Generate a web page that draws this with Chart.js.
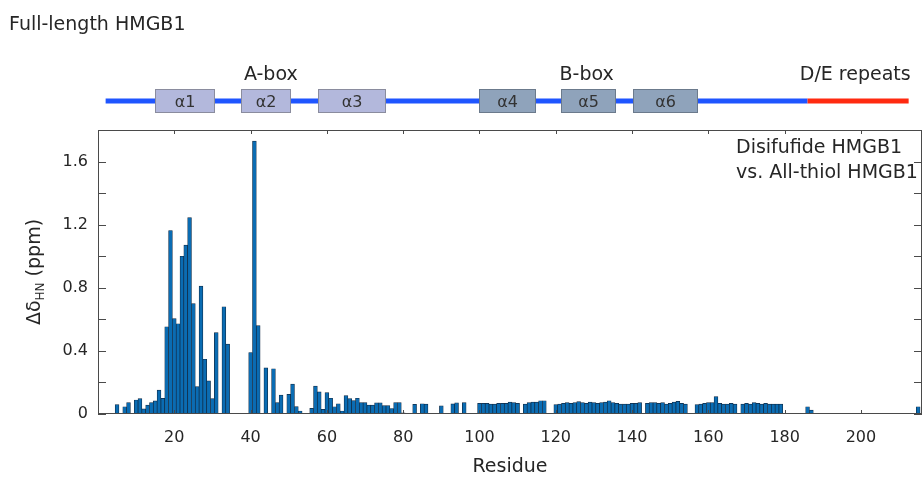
<!DOCTYPE html>
<html><head><meta charset="utf-8">
<script src="https://cdn.jsdelivr.net/npm/chart.js@4.4.1/dist/chart.umd.min.js"></script>
<style>html,body{margin:0;padding:0;background:#fff;}#wrap{width:923px;height:477px;}</style>
</head><body><div id="wrap"><canvas id="c" width="923" height="477"></canvas></div>
<script>
// ---- data ----
const residues = [5,7,8,10,11,12,13,14,15,16,17,18,19,20,21,22,23,24,25,26,27,28,29,30,31,33,34,
  40,41,42,44,46,47,48,50,51,52,53,56,57,58,59,60,61,62,63,64,65,66,67,68,69,70,71,72,73,74,75,76,77,78,79,80,
  83,85,86,90,93,94,96,
  100,101,102,103,104,105,106,107,108,109,110,112,113,114,115,116,117,
  120,121,122,123,124,125,126,127,128,129,130,131,132,133,134,135,136,137,138,139,140,141,142,
  144,145,146,147,148,149,150,151,152,153,154,
  157,158,159,160,161,162,163,164,165,166,167,
  169,170,171,172,173,174,175,176,177,178,179,
  186,187,215];
const shifts = [0.059,0.046,0.072,0.089,0.097,0.032,0.057,0.072,0.083,0.152,0.099,0.553,1.163,0.605,0.572,1.0,1.07,1.245,0.70,0.173,0.81,0.347,0.21,0.098,0.516,0.68,0.443,
  0.39,1.73,0.56,0.292,0.287,0.072,0.12,0.125,0.19,0.047,0.019,0.036,0.177,0.14,0.03,0.136,0.10,0.046,0.065,0.019,0.116,0.097,0.085,0.10,0.072,0.072,0.057,0.057,0.071,0.071,0.053,0.053,0.035,0.072,0.072,0.008,
  0.061,0.065,0.063,0.052,0.064,0.071,0.072,
  0.068,0.068,0.068,0.063,0.063,0.068,0.068,0.068,0.076,0.072,0.068,0.063,0.072,0.076,0.076,0.084,0.084,
  0.059,0.063,0.068,0.072,0.068,0.072,0.078,0.072,0.068,0.076,0.072,0.068,0.072,0.076,0.084,0.072,0.068,0.063,0.063,0.063,0.068,0.068,0.072,
  0.068,0.072,0.072,0.068,0.072,0.063,0.068,0.076,0.080,0.068,0.063,
  0.059,0.063,0.068,0.072,0.072,0.110,0.068,0.063,0.063,0.068,0.063,
  0.063,0.068,0.063,0.072,0.068,0.063,0.068,0.063,0.063,0.063,0.063,
  0.046,0.025,0.046];
const xTickValues = [20,40,60,80,100,120,140,160,180,200];
const yTickValues = [0,0.2,0.4,0.6,0.8,1.0,1.2,1.4,1.6,1.8];
const yTickLabels = {0:'0',0.4:'0.4',0.8:'0.8',1.2:'1.2',1.6:'1.6'};
const helixNames = ['α1','α2','α3','α4','α5','α6'];
const helixStart = [15,37.6,57.8,99.9,121.3,140.2];
const helixEnd   = [30.5,50.4,75.2,114.6,135.4,157];
const domainNames = ['A-box','B-box','D/E repeats'];
const domainCenters = [45.3,128.1,198.5];
const chainStart = 2, acidicStart = 186, chainEnd = 212.5;
const annotationLines = ['Disifufide HMGB1','vs. All-thiol HMGB1'];

const FONT = "'DejaVu Sans', sans-serif";
const TXT = '#262626';
const AX = '#4a4a4a';

const decor = {
  id:'decor',
  afterDraw(chart){
    const {ctx, chartArea:{left,right,top,bottom}, scales:{x,y}} = chart;
    ctx.save();
    // frame
    ctx.strokeStyle = AX; ctx.lineWidth = 1;
    ctx.strokeRect(left+0.5, top+0.5, right-left-1, bottom-top-1);
    // y ticks (inward, both sides)
    yTickValues.forEach(v=>{
      const py = Math.round(y.getPixelForValue(v))+0.5;
      ctx.beginPath();
      ctx.moveTo(left, py); ctx.lineTo(left+8, py);
      ctx.moveTo(right, py); ctx.lineTo(right-8, py);
      ctx.stroke();
    });
    xTickValues.forEach(v=>{
      const px = Math.round(x.getPixelForValue(v))+0.5;
      ctx.beginPath();
      ctx.moveTo(px, bottom); ctx.lineTo(px, bottom-4);
      ctx.moveTo(px, top); ctx.lineTo(px, top+4);
      ctx.stroke();
    });
    // y title with subscript
    ctx.fillStyle = TXT;
    ctx.translate(33, 272);
    ctx.rotate(-Math.PI/2);
    const f1 = '19px '+FONT, f2 = '12px '+FONT;
    ctx.font = f1; const w1 = ctx.measureText('Δδ').width;
    ctx.font = f2; const w2 = ctx.measureText('HN').width;
    ctx.font = f1; const w3 = ctx.measureText(' (ppm)').width;
    let sx = -(w1+w2+w3)/2;
    ctx.textBaseline = 'alphabetic';
    ctx.font = f1; ctx.fillText('Δδ', sx, 7); sx += w1;
    ctx.font = f2; ctx.fillText('HN', sx, 11); sx += w2;
    ctx.font = f1; ctx.fillText(' (ppm)', sx, 7);
    ctx.restore();

    ctx.save();
    ctx.fillStyle = TXT;
    ctx.font = '19px '+FONT;
    ctx.textBaseline = 'alphabetic';
    ctx.textAlign = 'left';
    ctx.fillText(annotationLines[0], 736, 153);
    ctx.fillText(annotationLines[1], 736, 178);
    // title
    ctx.fillText('Full-length HMGB1', 9, 30);
    // domain diagram
    const ly = 101;
    ctx.lineWidth = 5; ctx.lineCap = 'butt';
    ctx.strokeStyle = '#1f55ff';
    ctx.beginPath(); ctx.moveTo(x.getPixelForValue(chainStart), ly); ctx.lineTo(x.getPixelForValue(acidicStart), ly); ctx.stroke();
    ctx.strokeStyle = '#ff2a10';
    ctx.beginPath(); ctx.moveTo(x.getPixelForValue(acidicStart), ly); ctx.lineTo(x.getPixelForValue(chainEnd), ly); ctx.stroke();
    ctx.lineWidth = 1;
    helixNames.forEach((n,i)=>{
      const x0 = Math.round(x.getPixelForValue(helixStart[i]))+0.5;
      const x1 = Math.round(x.getPixelForValue(helixEnd[i]))+0.5;
      ctx.fillStyle = i<3 ? '#b3b8dc' : '#8fa3bb';
      ctx.strokeStyle = i<3 ? '#8a8c9e' : '#6b7a8c';
      ctx.fillRect(x0, 89.5, x1-x0, 23);
      ctx.strokeRect(x0, 89.5, x1-x0, 23);
      ctx.fillStyle = '#333';
      ctx.font = '16px '+FONT;
      ctx.textAlign = 'center';
      ctx.fillText(n, (x0+x1)/2, 107);
    });
    ctx.fillStyle = TXT;
    ctx.font = '19px '+FONT;
    ctx.textAlign = 'center';
    domainNames.forEach((n,i)=>{
      ctx.fillText(n, x.getPixelForValue(domainCenters[i]), 80);
    });
    ctx.restore();
  }
};

new Chart(document.getElementById('c'), {
  type:'bar',
  data:{datasets:[{
    data: residues.map((r,i)=>({x:r, y:shifts[i]})),
    backgroundColor:'#0a6cb3',
    borderColor:'#102a44',
    borderWidth:0.7,
    barPercentage:1,
    categoryPercentage:1
  }]},
  options:{
    responsive:false,
    animation:false,
    devicePixelRatio:1,
    layout:{padding:{top:130,right:1,left:0,bottom:0}},
    plugins:{legend:{display:false},tooltip:{enabled:false}},
    scales:{
      x:{
        type:'linear', min:0, max:216, offset:false,
        grid:{display:false, drawTicks:false, offset:false},
        border:{display:false},
        afterBuildTicks:(s)=>{ s.ticks = xTickValues.map(v=>({value:v})); },
        ticks:{autoSkip:false, maxRotation:0, padding:14, color:TXT, font:{family:FONT, size:16},
          callback:(v)=>String(v)},
        title:{display:true, text:'Residue', color:TXT, font:{family:FONT, size:19}, padding:{top:0,bottom:-1}},
        afterFit:(s)=>{ s.height = 63; }
      },
      y:{
        min:0, max:1.8,
        grid:{display:false, drawTicks:false},
        border:{display:false},
        afterBuildTicks:(s)=>{ s.ticks = yTickValues.map(v=>({value:v})); },
        ticks:{autoSkip:false, padding:10, color:TXT, font:{family:FONT, size:16},
          callback:(v)=>{ const k = Math.round(v*10)/10; return yTickLabels[k] !== undefined ? yTickLabels[k] : ''; }},
        afterFit:(s)=>{ s.width = 98; }
      }
    }
  },
  plugins:[decor]
});
</script>
</body></html>
